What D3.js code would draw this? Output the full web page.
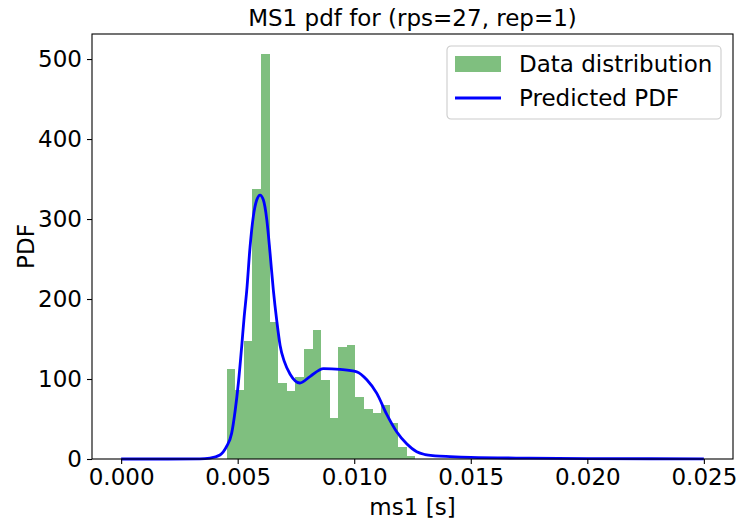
<!DOCTYPE html>
<html>
<head>
<meta charset="utf-8">
<script src="https://cdn.jsdelivr.net/npm/d3@7"></script>
<style>
  html, body { margin: 0; padding: 0; background: #fff; }
  svg { display: block; font-family: "DejaVu Sans", sans-serif; }
</style>
</head>
<body>
<svg id="chart" width="740" height="524"></svg>
<script>
// Histogram of observed ms1 durations (density-normalised)
const binEdges = [0.004530, 0.004898, 0.005266, 0.005634, 0.006002, 0.006370,
  0.006738, 0.007106, 0.007474, 0.007842, 0.008210, 0.008578, 0.008946,
  0.009314, 0.009682, 0.010050, 0.010418, 0.010786, 0.011154, 0.011522,
  0.011890, 0.012258, 0.012626];
const binDensity = [113, 86, 147, 337, 506, 171, 95, 85, 102, 137, 161, 99,
  51, 140, 142, 78, 63, 58, 67, 45, 15, 4];

// Fitted probability density, sampled along ms1
const pdfX = [0.0000, 0.0020, 0.00338, 0.00381, 0.00424, 0.00453, 0.00474,
  0.00489, 0.00503, 0.00517, 0.00527, 0.00539, 0.00553, 0.00567, 0.00582,
  0.00596, 0.00610, 0.00625, 0.00639, 0.00653, 0.00668, 0.00682, 0.00700,
  0.00725, 0.00767, 0.00810, 0.00868, 0.00939, 0.01011, 0.01054, 0.01097,
  0.01139, 0.01182, 0.01225, 0.01268, 0.01304, 0.01347, 0.01411, 0.0150,
  0.0175, 0.0200, 0.0250];
const pdfY = [0, 0, 0.1, 1, 5, 16, 32, 60, 95, 140, 175, 211, 265, 303, 324,
  330, 324, 299, 257, 211, 172, 142, 122, 106, 95, 103, 113, 112, 109, 99,
  82, 56, 34, 19, 9, 5.5, 4, 3, 2, 1, 0.5, 0.2];

const xTicks = [0.000, 0.005, 0.010, 0.015, 0.020, 0.025];
const yTicks = [0, 100, 200, 300, 400, 500];

const titleText = "MS1 pdf for (rps=27, rep=1)";
const xLabel = "ms1 [s]";
const yLabel = "PDF";
const legendLabels = ["Data distribution", "Predicted PDF"];

const W = 740, H = 524;
const margin = { top: 34, right: 7, bottom: 65, left: 92 };
const iw = W - margin.left - margin.right;
const ih = H - margin.top - margin.bottom;
const fontSize = 23;

const svg = d3.select("#chart");
const g = svg.append("g").attr("transform", `translate(${margin.left},${margin.top})`);

// matplotlib-style 5% padding on x; y starts at 0 with 5% headroom
const xMin = 0, xMax = 0.025;
const xPad = (xMax - xMin) * 0.05;
const x = d3.scaleLinear().domain([xMin - xPad, xMax + xPad]).range([0, iw]);
const y = d3.scaleLinear().domain([0, d3.max(binDensity) * 1.05]).range([ih, 0]);

// Histogram bars
const bins = binDensity.map((v, i) => ({ x0: binEdges[i], x1: binEdges[i + 1], v }));
g.append("g").attr("shape-rendering", "crispEdges")
  .selectAll("rect").data(bins).join("rect")
  .attr("x", d => x(d.x0))
  .attr("width", d => x(d.x1) - x(d.x0))
  .attr("y", d => y(d.v))
  .attr("height", d => y(0) - y(d.v))
  .attr("fill", "green")
  .attr("fill-opacity", 0.5);

// Predicted PDF curve
const line = d3.line()
  .x((d, i) => x(pdfX[i]))
  .y(d => y(d))
  .curve(d3.curveMonotoneX);
g.append("path")
  .attr("d", line(pdfY))
  .attr("fill", "none")
  .attr("stroke", "blue")
  .attr("stroke-width", 2.8)
  .attr("stroke-linejoin", "round");

// Axes
const xAxis = d3.axisBottom(x).tickValues(xTicks).tickFormat(d3.format(".3f"))
  .tickSize(5).tickPadding(5);
const yAxis = d3.axisLeft(y).tickValues(yTicks).tickFormat(d3.format("d"))
  .tickSize(5).tickPadding(5);

const gx = g.append("g").attr("transform", `translate(0,${ih})`).call(xAxis);
const gy = g.append("g").call(yAxis);
[gx, gy].forEach(a => {
  a.select(".domain").remove();
  a.selectAll(".tick line").attr("stroke", "#000").attr("stroke-width", 1.1);
  a.selectAll(".tick text").attr("fill", "#000")
    .style("font-size", fontSize + "px").style("font-family", "DejaVu Sans");
});

// Frame
g.append("rect").attr("x", 0).attr("y", 0).attr("width", iw).attr("height", ih)
  .attr("fill", "none").attr("stroke", "#000").attr("stroke-width", 1.1);

// Title and axis labels
svg.append("text")
  .attr("x", margin.left + iw / 2).attr("y", 26)
  .attr("text-anchor", "middle")
  .style("font-size", fontSize + "px")
  .text(titleText);
svg.append("text")
  .attr("x", margin.left + iw / 2).attr("y", 515)
  .attr("text-anchor", "middle")
  .style("font-size", fontSize + "px")
  .text(xLabel);
svg.append("text")
  .attr("transform", `translate(34,${margin.top + ih / 2}) rotate(-90)`)
  .attr("text-anchor", "middle")
  .style("font-size", fontSize + "px")
  .text(yLabel);

// Legend
const lg = svg.append("g").attr("transform", "translate(447,46)");
lg.append("rect").attr("x", 0).attr("y", 0).attr("width", 274).attr("height", 73)
  .attr("rx", 4).attr("fill", "#fff").attr("fill-opacity", 0.8)
  .attr("stroke", "#ccc").attr("stroke-width", 1.1);
lg.append("rect").attr("x", 8).attr("y", 10).attr("width", 46).attr("height", 16)
  .attr("fill", "green").attr("fill-opacity", 0.5);
lg.append("line").attr("x1", 8).attr("x2", 54).attr("y1", 52).attr("y2", 52)
  .attr("stroke", "blue").attr("stroke-width", 2.8);
lg.selectAll("text.lab").data(legendLabels).join("text")
  .attr("class", "lab")
  .attr("x", 72)
  .attr("y", (d, i) => 26 + i * 34)
  .style("font-size", fontSize + "px")
  .text(d => d);
</script>
</body>
</html>
